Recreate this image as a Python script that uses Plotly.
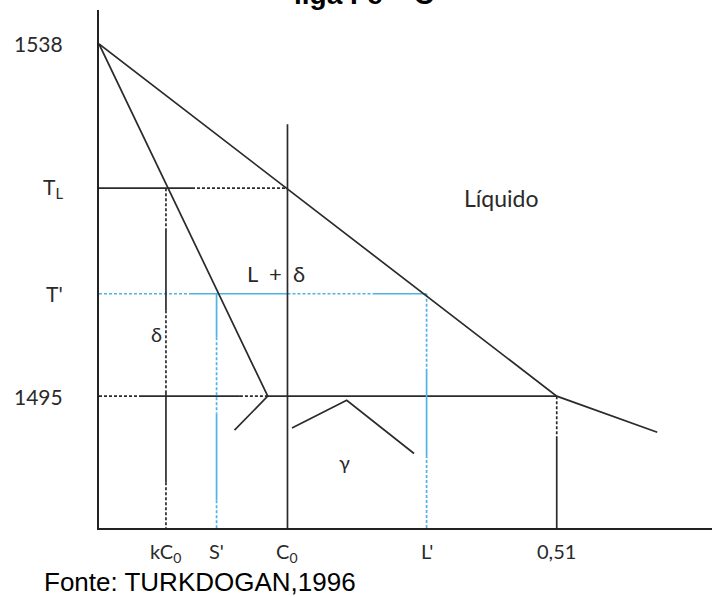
import plotly.graph_objects as go

# ---------------- data (schematic Fe-C diagram) ----------------
comp_labels = ["kC<sub>0</sub>", "S'", "C<sub>0</sub>", "L'", "0,51"]
comp_vals = [0.0746, 0.131, 0.210, 0.365, 0.510]
temp_labels = ["1538", "T<sub>L</sub>", "T'", "1495"]
temp_vals = [1538.0, 1520.4, 1507.5, 1495.0]

liquidus_x = [0.0, 0.510, 0.622]
liquidus_y = [1538.0, 1495.0, 1490.6]
solidus_x = [0.0, 0.188, 0.151]
solidus_y = [1538.0, 1495.0, 1490.85]
gamma_x = [0.215, 0.276, 0.351]
gamma_y = [1491.1, 1494.5, 1488.0]
c0_top = 1528.2

x_range = [0.0, 0.683]
y_range = [1478.9, 1542.15]

kC0, Sp, C0, Lp, C51 = comp_vals
T1538, TL, Tp, T1495 = temp_vals
ybot = y_range[0]

BLACK = "#2b2b2b"
BLUE = "#4fb4e4"
DASH = "3px,2px"

# horizontal guides: y, x-breakpoints, styles
h_guides = [
    (TL, [0.0, 0.1036, C0], ["solid", DASH], BLACK),
    (Tp, [0.0, 0.1013, C0, 0.305, Lp], [DASH, "solid", DASH, "solid"], BLUE),
    (T1495, [0.0, 0.0457, 0.157, 0.188, C51], [DASH, "solid", DASH, "solid"], BLACK),
]
# vertical guides: x, y-breakpoints, styles
v_guides = [
    (kC0, [TL, 1515.3, 1505.5, 1495.7, 1484.5, ybot], [DASH, "solid", DASH, "solid", DASH], BLACK),
    (Sp, [Tp, 1502.2, 1492.9, 1482.3, ybot], ["solid", DASH, "solid", DASH], BLUE),
    (Lp, [Tp, 1498.2, 1487.8, ybot], [DASH, "solid", DASH], BLUE),
    (C51, [T1495, 1489.9, ybot], [DASH, "solid"], BLACK),
    (C0, [c0_top, ybot], ["solid"], BLACK),
]

fig = go.Figure()

def add_line(xs, ys, color, dash="solid", width=1.7):
    fig.add_trace(go.Scatter(x=xs, y=ys, mode="lines",
                             line=dict(color=color, width=width, dash=dash),
                             hoverinfo="skip", showlegend=False, cliponaxis=False))

for y, xb, styles, col in h_guides:
    for i, st in enumerate(styles):
        add_line([xb[i], xb[i + 1]], [y, y], col, st)
for x, yb, styles, col in v_guides:
    for i, st in enumerate(styles):
        add_line([x, x], [yb[i], yb[i + 1]], col, st)

add_line(liquidus_x, liquidus_y, BLACK)
add_line(solidus_x, solidus_y, BLACK)
add_line(gamma_x, gamma_y, BLACK)

W, H = 712, 597
ml, mr, mt, mb = 99, 0, 10, 69
pw, ph = W - ml - mr, H - mt - mb

def px_x(p):
    return (p - ml) / pw

def px_y(p):
    return (H - mb - p) / ph

LBL = dict(family="Lato, Open Sans, sans-serif", color="#2a2a2a")
ann = []
for t, lab in zip(temp_vals, temp_labels):
    ann.append(dict(x=px_x(65), xref="paper", y=t, yref="y", text=lab,
                    xanchor="right", yanchor="middle", showarrow=False,
                    font=dict(size=21, **LBL)))
for c, lab in zip(comp_vals, comp_labels):
    ann.append(dict(x=c, xref="x", y=px_y(537), yref="paper", text=lab,
                    xanchor="center", yanchor="top", showarrow=False,
                    font=dict(size=20, **LBL)))
regions = [
    dict(x=0.4477, y=1519.2, text="Líquido", font=dict(size=23, **LBL)),
    dict(x=0.197, y=1510.0, text="L  +  δ", font=dict(size=22, **LBL)),
    dict(x=0.0646, y=1502.6, text="δ", font=dict(size=20, **LBL)),
    dict(x=0.274, y=1487.0, text="γ", font=dict(size=20, **LBL)),
]
for a in regions:
    a.update(xref="x", yref="y", showarrow=False, xanchor="center", yanchor="middle")
ann += regions

ann.append(dict(x=px_x(364), xref="paper", y=px_y(-5), yref="paper",
                text="<b>liga Fe – C</b>", showarrow=False, xanchor="center", yanchor="middle",
                font=dict(family="Liberation Sans, Arial, sans-serif", size=28, color="#000000")))
ann.append(dict(x=px_x(42), xref="paper", y=px_y(582), yref="paper",
                text="Fonte: TURKDOGAN,1996", showarrow=False, xanchor="left", yanchor="middle",
                font=dict(family="Liberation Sans, Arial, sans-serif", size=26, color="#000000")))

fig.update_layout(
    width=W, height=H,
    margin=dict(l=ml, r=mr, t=mt, b=mb, pad=0),
    paper_bgcolor="white", plot_bgcolor="white",
    showlegend=False,
    annotations=ann,
    xaxis=dict(range=x_range, showgrid=False, zeroline=False, showticklabels=False,
               ticks="", showline=True, linecolor="#222222", linewidth=2, fixedrange=True),
    yaxis=dict(range=y_range, showgrid=False, zeroline=False, showticklabels=False,
               ticks="", showline=True, linecolor="#222222", linewidth=2, fixedrange=True),
)

fig.write_html("out.html")
